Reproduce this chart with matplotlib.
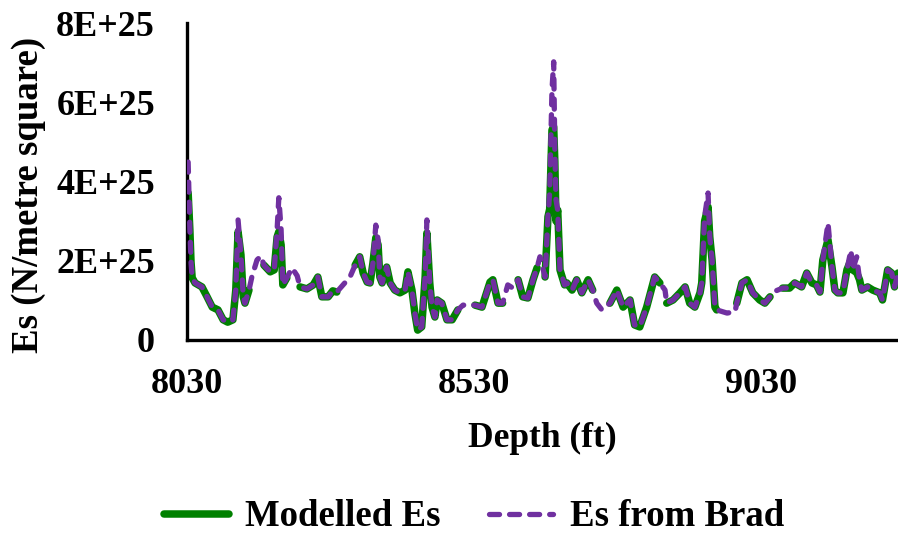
import numpy as np
import matplotlib
matplotlib.use("Agg")
import matplotlib.pyplot as plt

nan = np.nan

depth_ft = [8032, 8035, 8037, 8039, 8044, 8056, 8065, 8074, 8084, 8093,
            8101, 8110, 8115, 8119, 8124, 8128, 8131, 8138, 8143, 8152,
            8159, 8164, 8175, 8182, 8187, 8190, 8194, 8197, 8204, 8213,
            8222, 8227, 8239, 8250, 8258, 8265, 8276, 8284, 8291, 8302,
            8314, 8323, 8331, 8337, 8344, 8349, 8354, 8359, 8363, 8366,
            8370, 8378, 8384, 8392, 8401, 8410, 8415, 8422, 8427, 8432,
            8439, 8445, 8448, 8453, 8457, 8462, 8466, 8474, 8483, 8492,
            8502, 8511, 8523, 8532, 8544, 8558, 8563, 8572, 8580, 8589,
            8598, 8607, 8615, 8624, 8633, 8640, 8645, 8654, 8659, 8662,
            8666, 8669, 8671, 8673, 8676, 8680, 8688, 8692, 8701, 8709,
            8718, 8729, 8737, 8744, 8753, 8767, 8779, 8790, 8802, 8810,
            8819, 8831, 8845, 8854, 8863, 8866, 8877, 8889, 8898, 8906,
            8915, 8924, 8927, 8932, 8938, 8941, 8945, 8950, 8953, 8971,
            8985, 8988, 8997, 9006, 9016, 9028, 9037, 9046, 9051, 9068,
            9080, 9089, 9101, 9110, 9119, 9127, 9133, 9138, 9147, 9154,
            9159, 9164, 9173, 9180, 9187, 9190, 9197, 9202, 9206, 9216,
            9225, 9237, 9242, 9251, 9258, 9263, 9269]

# Es from Brad (units of 1E+25 N/m^2)
es_brad = [4.49, 2.78, 1.97, 1.57, 1.44, 1.34, 1.09, 0.83, 0.76, 0.51,
           0.45, 0.51, 1.26, 3.03, 2.15, 1.09, 0.93, 1.26, 1.59, 2.02,
           2.12, 1.89, 1.72, 1.77, 2.78, 3.59, 2.78, 1.39, 1.57, 1.82,
           1.62, 1.34, 1.29, 1.39, 1.59, 1.09, 1.09, 1.24, 1.21, 1.39,
           1.59, 1.89, 2.10, 1.69, 1.46, 1.44, 1.94, 2.90, 2.53, 1.59,
           1.44, 1.84, 1.44, 1.26, 1.19, 1.26, 1.72, 1.26, 0.68, 0.25,
           0.33, 1.59, 3.03, 1.44, 0.83, 0.58, 1.01, 0.93, 0.51, 0.51,
           0.76, 0.88, 0.88, 0.88, 0.83, 1.46, 1.52, 0.93, 0.93, 1.39,
           1.31, 1.52, 1.09, 1.06, 1.52, 1.82, 2.10, 1.59, 3.11, 3.71,
           6.31, 7.02, 4.80, 3.54, 3.28, 1.77, 1.39, 1.44, 1.26, 1.52,
           1.19, 1.52, 1.26, 0.93, 0.76, 0.93, 1.26, 0.83, 1.01, 0.38,
           0.33, 0.83, 1.59, 1.44, 1.26, 0.93, 1.01, 1.19, 1.34, 0.93,
           0.83, 1.19, 1.44, 3.11, 3.71, 2.60, 2.02, 0.83, 0.76, 0.68,
           0.71, 0.93, 1.44, 1.52, 1.19, 1.01, 0.93, 1.09, 1.21, 1.31,
           1.31, 1.44, 1.34, 1.69, 1.44, 1.39, 1.21, 2.02, 2.95, 1.84,
           1.26, 1.19, 1.19, 1.77, 2.27, 1.77, 2.10, 1.52, 1.26, 1.34,
           1.26, 1.19, 1.01, 1.77, 1.69, 1.34, 1.69]

# Modelled Es (units of 1E+25 N/m^2), gaps where no model value
es_model = [3.71, 2.78, 1.97, 1.57, 1.44, 1.34, 1.09, 0.83, 0.76, 0.51,
            0.45, 0.51, 1.26, 2.73, 2.15, 1.09, 0.93, 1.26, nan, nan,
            nan, 1.89, 1.72, 1.77, 2.60, 2.73, 2.40, 1.39, 1.57, nan,
            nan, 1.34, 1.29, 1.39, 1.59, 1.09, 1.09, 1.24, 1.21, nan,
            nan, 1.89, 2.10, 1.69, 1.46, 1.44, 1.94, 2.58, 2.40, 1.59,
            1.44, 1.84, 1.44, 1.26, 1.19, 1.26, 1.72, 1.26, 0.68, 0.25,
            0.33, 1.59, 2.70, 1.44, 0.83, 0.58, 1.01, 0.93, 0.51, 0.51,
            0.76, nan, nan, 0.88, 0.83, 1.46, 1.52, 0.93, 0.93, nan,
            nan, 1.52, 1.09, 1.06, 1.52, 1.82, nan, 1.59, 3.11, 3.30,
            5.30, 5.38, 4.50, 3.00, 3.28, 1.77, 1.39, 1.44, 1.26, 1.52,
            1.19, 1.52, 1.26, nan, nan, 0.93, 1.26, 0.83, 1.01, 0.38,
            0.33, 0.83, 1.59, 1.44, nan, 0.93, 1.01, 1.19, 1.34, 0.93,
            0.83, 1.19, 1.44, 3.00, 3.36, 2.60, 2.02, 0.83, 0.76, nan,
            nan, 0.93, 1.44, 1.52, 1.19, 1.01, 0.93, 1.09, nan, 1.31,
            1.31, 1.44, 1.34, 1.69, 1.44, 1.39, 1.21, 2.02, 2.53, 1.84,
            1.26, 1.19, 1.19, 1.77, 2.02, 1.77, 1.70, 1.52, 1.26, 1.34,
            1.26, 1.19, 1.01, 1.77, 1.69, 1.34, 1.69]

x_ticks = [8030, 8530, 9030]
y_ticks = [0, 2e25, 4e25, 6e25, 8e25]
y_tick_labels = ["0", "2E+25", "4E+25", "6E+25", "8E+25"]

plt.rcParams['font.family'] = ['Liberation Serif', 'DejaVu Serif']
plt.rcParams['font.weight'] = 'bold'

fig = plt.figure(figsize=(8.98, 5.35), dpi=100)
ax = fig.add_axes([187/898, 1 - 340/535, 1 - 187/898, (340 - 23)/535])

d = np.array(depth_ft, dtype=float)
brad = np.array(es_brad) * 1e25
model = np.array(es_model) * 1e25

ax.plot(d, model, color='#008000', lw=5.4, solid_capstyle='round',
        solid_joinstyle='round', label='Modelled Es', zorder=2)
ax.plot(d, brad, color='#7030A0', lw=3.8, linestyle=(0, (1.9, 1.9)),
        dash_capstyle='round', dash_joinstyle='round', label='Es from Brad', zorder=3)

ax.set_xlim(8030, 9269)
ax.set_ylim(0, 8e25)
ax.set_xticks(x_ticks)
ax.set_xticklabels([str(t) for t in x_ticks])
ax.set_yticks(y_ticks)
ax.set_yticklabels(y_tick_labels)
ax.tick_params(axis='both', length=0, labelsize=26)
ax.tick_params(axis='x', pad=20)
ax.tick_params(axis='y', pad=23)

for s in ['top', 'right']:
    ax.spines[s].set_visible(False)
for s in ['left', 'bottom']:
    ax.spines[s].set_linewidth(2.4)
    ax.spines[s].set_color('black')

ax.set_xlabel('Depth (ft)', fontsize=25.5, fontweight='bold', labelpad=15)
ax.set_ylabel('Es (N/metre square)', fontsize=26.5, fontweight='bold')
ax.yaxis.set_label_coords(-0.198, 0.457)

fig.legend(loc='center', bbox_to_anchor=(474/898, 1 - 517/535), ncol=2,
           frameon=False, handlelength=1.75, handletextpad=0.45,
           columnspacing=1.3, prop={'weight': 'bold', 'size': 26.5})

fig.savefig('out.png', dpi=100)
